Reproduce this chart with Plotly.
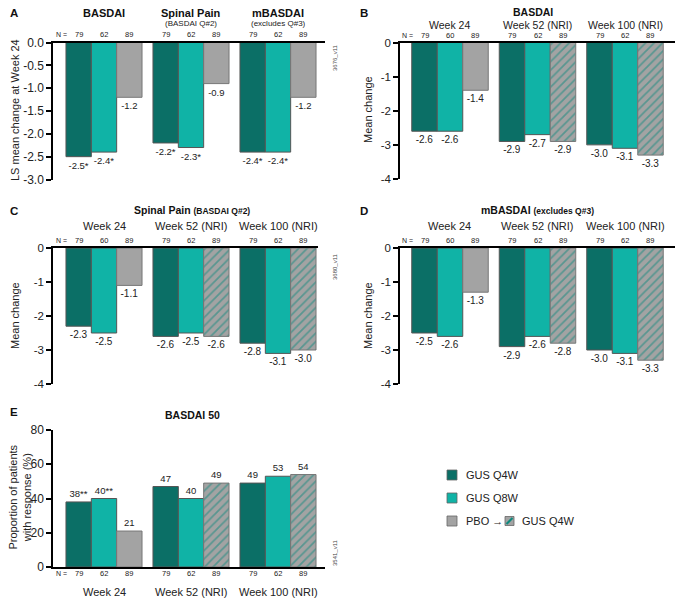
import plotly.graph_objects as go

W, H = 685, 598
OX, OY = 8, 8  # page body margin of the exported html
FONT = "Liberation Sans"
Q4W_C, Q8W_C, PBO_C = "#0b6f66", "#10b3a6", "#a3a3a3"
HATCH_C = "#0e8a7e"

# ---- data ----
weeks = ["Week 24", "Week 52 (NRI)", "Week 100 (NRI)"]

a_titles = ["BASDAI", "Spinal Pain", "mBASDAI"]
a_subtitles = ["", "(BASDAI Q#2)", "(excludes Q#3)"]
a_q4w = [-2.5, -2.2, -2.4]
a_q8w = [-2.4, -2.3, -2.4]
a_pbo = [-1.2, -0.9, -1.2]
a_q4w_lbl = ["-2.5*", "-2.2*", "-2.4*"]
a_q8w_lbl = ["-2.4*", "-2.3*", "-2.4*"]
a_n = [[79, 62, 89], [79, 62, 89], [79, 62, 89]]

b_q4w = [-2.6, -2.9, -3.0]
b_q8w = [-2.6, -2.7, -3.1]
b_pbo = [-1.4, -2.9, -3.3]

c_q4w = [-2.3, -2.6, -2.8]
c_q8w = [-2.5, -2.5, -3.1]
c_pbo = [-1.1, -2.6, -3.0]

d_q4w = [-2.5, -2.9, -3.0]
d_q8w = [-2.6, -2.6, -3.1]
d_pbo = [-1.3, -2.8, -3.3]

bcd_n = [[79, 60, 89], [79, 62, 89], [79, 62, 89]]

e_q4w = [38, 47, 49]
e_q8w = [40, 40, 53]
e_pbo = [21, 49, 54]
e_q4w_lbl = ["38**", "47", "49"]
e_q8w_lbl = ["40**", "40", "53"]
e_n = [[79, 62, 89], [79, 62, 89], [79, 62, 89]]

a_ticks = [0, -0.5, -1.0, -1.5, -2.0, -2.5, -3.0]
a_ticktext = ["0.0", "-0.5", "-1.0", "-1.5", "-2.0", "-2.5", "-3.0"]
m_ticks = [0, -1, -2, -3, -4]
m_ticktext = ["0", "-1", "-2", "-3", "-4"]
e_ticks = [0, 20, 40, 60, 80]

hatch_week = ["", "/", "/"]
plain = ["", "", ""]


def fmt(vals):
    return [f"{v:.1f}" for v in vals]


def px(x):
    return (x - OX) / W


def py(y):
    return 1 - (y - OY) / H


fig = go.Figure()
annotations = []
BARGAP = 0.126
OFF = (1 - BARGAP) / 3


def add_panel(i, q4w, q8w, pbo, lbls, n, shapes, xpx, ypx, c0, step, yr,
              tickvals, ticktext, top=True, tick_size=12, lbl_size=10, n_gap=7.5):
    xa = "x" if i == 1 else f"x{i}"
    ya = "y" if i == 1 else f"y{i}"
    xs = [0, 1, 2]
    for vals, col, lb, sh in [(q4w, Q4W_C, lbls[0], plain),
                              (q8w, Q8W_C, lbls[1], plain),
                              (pbo, PBO_C, lbls[2], shapes)]:
        fig.add_trace(go.Bar(
            x=xs, y=vals, xaxis=xa, yaxis=ya, text=lb,
            textposition="outside", textangle=0, constraintext="none",
            cliponaxis=False, showlegend=False,
            textfont=dict(size=lbl_size, color="#222", family=FONT),
            marker=dict(color=col,
                        line=dict(color="#555" if col != PBO_C else "#777", width=1),
                        pattern=dict(shape=sh, fgcolor=HATCH_C, bgcolor=PBO_C,
                                     size=6, solidity=0.3)),
        ))
    lo = (xpx[0] - c0) / step
    hi = (xpx[1] - c0) / step
    sfx = "" if i == 1 else str(i)
    fig.layout["xaxis" + sfx] = dict(
        domain=[px(xpx[0]), px(xpx[1])], range=[lo, hi], anchor=ya,
        showticklabels=False, ticks="", showgrid=False, zeroline=False,
        showline=True, linecolor="black", linewidth=1.5,
        side="top" if top else "bottom", fixedrange=True)
    fig.layout["yaxis" + sfx] = dict(
        domain=[py(ypx[1]), py(ypx[0])], range=yr, anchor=xa,
        tickvals=tickvals, ticktext=ticktext, ticks="outside", ticklen=5,
        tickwidth=1.5, tickcolor="black", showgrid=False, zeroline=False,
        showline=True, linecolor="black", linewidth=1.5,
        tickfont=dict(size=tick_size, color="#222", family=FONT))
    # N row
    ny = ypx[0] - n_gap if top else ypx[1] + 6.5
    annotations.append(dict(x=-0.49, y=py(ny), xref=xa, yref="paper",
                            text="N =", showarrow=False,
                            font=dict(size=7, color="#222")))
    for g in range(3):
        for k in range(3):
            annotations.append(dict(x=g + (k - 1) * OFF, y=py(ny), xref=xa,
                                    yref="paper", text=str(n[g][k]),
                                    showarrow=False,
                                    font=dict(size=7.5, color="#222")))
    return xa


# A
add_panel(1, a_q4w, a_q8w, a_pbo, [a_q4w_lbl, a_q8w_lbl, fmt(a_pbo)], a_n,
          plain, (53, 325), (42.5, 179.5), 104, 87, [-3.0, 0], a_ticks, a_ticktext,
          lbl_size=9.5)
for g in range(3):
    annotations.append(dict(x=g, y=py(12.5), xref="x", yref="paper",
                            text=f"<b>{a_titles[g]}</b>", showarrow=False,
                            font=dict(size=11, color="#111")))
    if a_subtitles[g]:
        annotations.append(dict(x=g, y=py(24), xref="x", yref="paper",
                                text=a_subtitles[g], showarrow=False,
                                font=dict(size=8, color="#222")))

# B, C, D
specs = [
    (2, b_q4w, b_q8w, b_pbo, (400, 675), (42.5, 179), 450, 87.5, 24.5, 6.5),
    (3, c_q4w, c_q8w, c_pbo, (53, 318), (248, 384), 104, 87, 226, 7.5),
    (4, d_q4w, d_q8w, d_pbo, (400, 675), (248, 384), 450, 87.5, 226, 7.5),
]
for i, q4, q8, pb, xpx, ypx, c0, st, wy, ng in specs:
    xa = add_panel(i, q4, q8, pb, [fmt(q4), fmt(q8), fmt(pb)], bcd_n,
                   hatch_week, xpx, ypx, c0, st, [-4, 0], m_ticks, m_ticktext,
                   tick_size=11.5, n_gap=ng)
    for g in range(3):
        annotations.append(dict(x=g, y=py(wy), xref=xa, yref="paper",
                                text=weeks[g], showarrow=False,
                                font=dict(size=10.5 if i == 2 else 11, color="#222")))

# E
add_panel(5, e_q4w, e_q8w, e_pbo, [e_q4w_lbl, e_q8w_lbl, [str(v) for v in e_pbo]],
          e_n, hatch_week, (53, 325), (430, 567), 104, 87, [0, 80], e_ticks,
          [str(t) for t in e_ticks], top=False, lbl_size=9.5)
for g in range(3):
    annotations.append(dict(x=g, y=py(591.5), xref="x5", yref="paper",
                            text=weeks[g], showarrow=False,
                            font=dict(size=11, color="#222")))

# panel titles
for x, y, t in [(533, 12, "<b>BASDAI</b>"),
                (192, 210, "<b>Spinal Pain </b><b><span style='font-size:8.5px'>(BASDAI Q#2)</span></b>"),
                (537, 210, "<b>mBASDAI </b><b><span style='font-size:8.5px'>(excludes Q#3)</span></b>"),
                (192, 415, "<b>BASDAI 50</b>")]:
    annotations.append(dict(x=px(x), y=py(y), xref="paper", yref="paper",
                            text=t, showarrow=False,
                            font=dict(size=10.5, color="#111")))

# panel letters (left edge kept inside the visible page)
for x, y, t in [(8, 13, "A"), (358, 13, "B"), (8, 211, "C"), (358, 211, "D"), (8, 412, "E")]:
    annotations.append(dict(x=px(x), y=py(y), xref="paper", yref="paper",
                            text=f"<b>{t}</b>", xanchor="left", showarrow=False,
                            font=dict(size=11.5, color="#111")))

# y titles
for x, y, t, s in [(15, 110, "LS mean change at Week 24", 11),
                   (368, 110, "Mean change", 11),
                   (15, 316, "Mean change", 11), (368, 316, "Mean change", 11),
                   (19.5, 497, "Proportion of patients<br>with response (%)", 11)]:
    annotations.append(dict(x=px(x), y=py(y), xref="paper", yref="paper",
                            text=t, textangle=-90, showarrow=False,
                            font=dict(size=s, color="#222")))

# version tags
for x, y, t in [(335, 58, "3676_v11"), (680, 52, "3678_v11"), (335, 267, "3680_v11"),
                (680, 268, "3679_v11"), (335, 553, "3541_v11")]:
    annotations.append(dict(x=px(x), y=py(y), xref="paper", yref="paper",
                            text=t, textangle=-90, showarrow=False,
                            font=dict(size=6, color="#444")))

# legend
shapes = []
leg = [(475, Q4W_C, "GUS Q4W"), (498, Q8W_C, "GUS Q8W"), (521, PBO_C, "PBO →")]
for y, col, t in leg:
    shapes.append(dict(type="rect", xref="paper", yref="paper",
                       x0=px(447), x1=px(457), y0=py(y + 5), y1=py(y - 5),
                       fillcolor=col, line=dict(color="#666", width=0.8)))
    annotations.append(dict(x=px(464), y=py(y), xref="paper", yref="paper",
                            text=t, xanchor="left", showarrow=False,
                            font=dict(size=11, color="#222")))
shapes.append(dict(type="rect", xref="paper", yref="paper",
                   x0=px(505), x1=px(514), y0=py(525.5), y1=py(516.5),
                   fillcolor=PBO_C, line=dict(color="#666", width=0.8)))
shapes.append(dict(type="line", xref="paper", yref="paper",
                   x0=px(506.5), x1=px(512.5), y0=py(524), y1=py(518),
                   line=dict(color=HATCH_C, width=2)))
annotations.append(dict(x=px(520), y=py(521), xref="paper", yref="paper",
                        text="GUS Q4W", xanchor="left", showarrow=False,
                        font=dict(size=11, color="#222")))

for a in annotations:
    a.setdefault("xanchor", "center")
    a.setdefault("yanchor", "middle")

fig.update_layout(
    width=W, height=H, margin=dict(l=0, r=0, t=0, b=0, autoexpand=False),
    barmode="group", bargap=BARGAP, bargroupgap=0,
    plot_bgcolor="white", paper_bgcolor="white",
    font=dict(family=FONT, color="#222"),
    annotations=annotations, shapes=shapes,
)

fig.write_html("out.html")
